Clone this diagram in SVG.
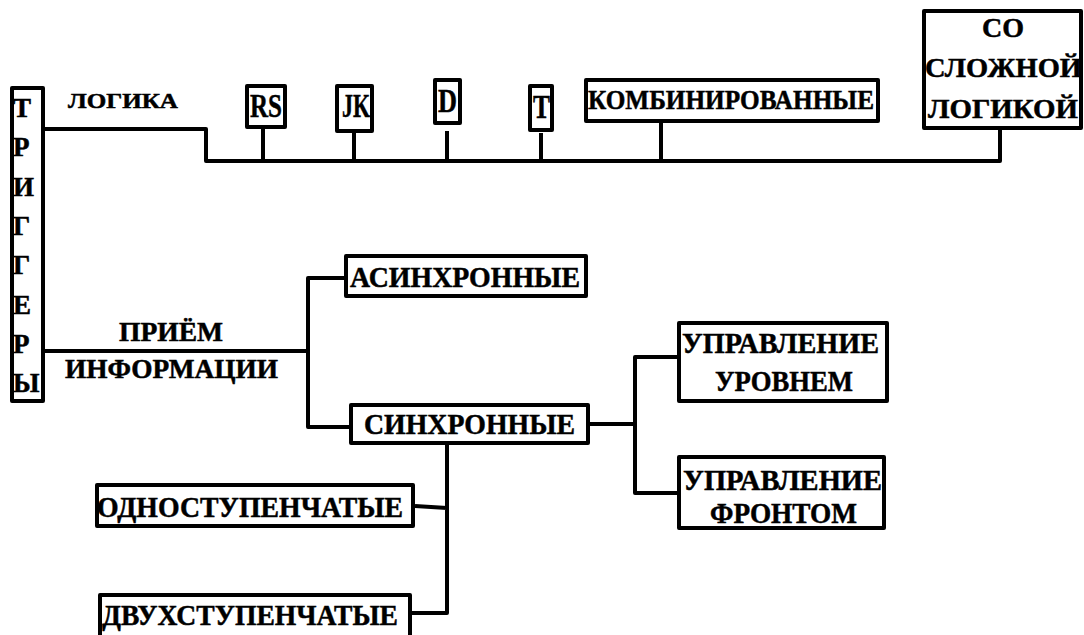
<svg xmlns="http://www.w3.org/2000/svg" width="1084" height="635" viewBox="0 0 1084 635">
<style>
.box{fill:#fff;stroke:#000;stroke-width:4;stroke-linejoin:round}
.ln{fill:none;stroke:#000;stroke-width:4;stroke-linejoin:round;stroke-linecap:butt}
text{font-family:"Liberation Serif","Times New Roman","DejaVu Serif",serif;font-weight:bold;fill:#000;stroke:#000;stroke-width:0.5}
.t30{font-size:30px}
.t28{font-size:28px}
.t34{font-size:34px}
.t26{font-size:27px}
</style>
<rect width="1084" height="635" fill="#fff"/>
<g id="connectors">
<path class="ln" d="M45 129 H206 V161 H1000 V130"/>
<path class="ln" d="M263 129 V161 M354 133 V161 M447 131 V161 M541 133 V161 M661 123 V161"/>
<path class="ln" d="M45 351 H308 M344 278 H308 V427 H349"/>
<path class="ln" d="M590 424 H635 M677 357 H635 V493 H677"/>
<path class="ln" d="M447 445 V613 H412 M415 506 L447 508"/>
</g>
<g id="triggers">
<rect class="box" x="12" y="88" width="31" height="313"/>
<text class="t26" x="13" y="117">Т</text>
<text class="t26" x="13" y="156">Р</text>
<text class="t26" x="13" y="196">И</text>
<text class="t26" x="13" y="235">Г</text>
<text class="t26" x="13" y="274">Г</text>
<text class="t26" x="13" y="314">Е</text>
<text class="t26" x="13" y="353">Р</text>
<text class="t26" x="13" y="392">Ы</text>
</g>
<g id="label-logic">
<text x="68" y="108" font-size="22" textLength="110" lengthAdjust="spacingAndGlyphs">ЛОГИКА</text>
</g>
<g id="label-input">
<text class="t26" x="119" y="341" textLength="104" lengthAdjust="spacingAndGlyphs">ПРИЁМ</text>
<text class="t26" x="65" y="378" textLength="213" lengthAdjust="spacingAndGlyphs">ИНФОРМАЦИИ</text>
</g>
<g id="rs">
<rect class="box" x="247" y="86" width="38" height="41"/>
<text class="t34" x="250" y="117" textLength="32" lengthAdjust="spacingAndGlyphs">RS</text>
</g>
<g id="jk">
<rect class="box" x="337" y="86" width="35" height="45"/>
<text class="t34" x="342" y="117" textLength="28" lengthAdjust="spacingAndGlyphs">JK</text>
</g>
<g id="d">
<rect class="box" x="435" y="80" width="25" height="43"/>
<text class="t34" x="438" y="112" textLength="19" lengthAdjust="spacingAndGlyphs">D</text>
</g>
<g id="t">
<rect class="box" x="530" y="86" width="22" height="44"/>
<text class="t34" x="533" y="118" textLength="17" lengthAdjust="spacingAndGlyphs">T</text>
</g>
<g id="combined">
<rect class="box" x="586" y="80" width="292" height="41"/>
<text class="t28" x="588" y="109" textLength="286" lengthAdjust="spacingAndGlyphs">КОМБИНИРОВАННЫЕ</text>
</g>
<g id="complex">
<rect class="box" x="924" y="11" width="157" height="117"/>
<text class="t28" x="1003" y="37" text-anchor="middle">СО</text>
<text class="t28" x="925" y="77" textLength="157" lengthAdjust="spacingAndGlyphs">СЛОЖНОЙ</text>
<text class="t28" x="928" y="118" textLength="150" lengthAdjust="spacingAndGlyphs">ЛОГИКОЙ</text>
</g>
<g id="async">
<rect class="box" x="346" y="256" width="240" height="40"/>
<text class="t30" x="350" y="287" textLength="230" lengthAdjust="spacingAndGlyphs">АСИНХРОННЫЕ</text>
</g>
<g id="sync">
<rect class="box" x="351" y="405" width="237" height="38"/>
<text class="t30" x="364" y="434" textLength="211" lengthAdjust="spacingAndGlyphs">СИНХРОННЫЕ</text>
</g>
<g id="level">
<rect class="box" x="679" y="323" width="208" height="78"/>
<text class="t30" x="682" y="353" textLength="197" lengthAdjust="spacingAndGlyphs">УПРАВЛЕНИЕ</text>
<text class="t30" x="715" y="391" textLength="138" lengthAdjust="spacingAndGlyphs">УРОВНЕМ</text>
</g>
<g id="edge">
<rect class="box" x="679" y="457" width="205" height="71"/>
<text class="t30" x="683" y="490" textLength="199" lengthAdjust="spacingAndGlyphs">УПРАВЛЕНИЕ</text>
<text class="t30" x="710" y="523" textLength="147" lengthAdjust="spacingAndGlyphs">ФРОНТОМ</text>
</g>
<g id="single">
<rect class="box" x="97" y="485" width="316" height="41"/>
<text class="t30" x="97" y="517" textLength="306" lengthAdjust="spacingAndGlyphs">ОДНОСТУПЕНЧАТЫЕ</text>
</g>
<g id="double">
<rect class="box" x="100" y="595" width="310" height="50"/>
<text class="t30" x="102" y="625" textLength="296" lengthAdjust="spacingAndGlyphs">ДВУХСТУПЕНЧАТЫЕ</text>
</g>
</svg>
